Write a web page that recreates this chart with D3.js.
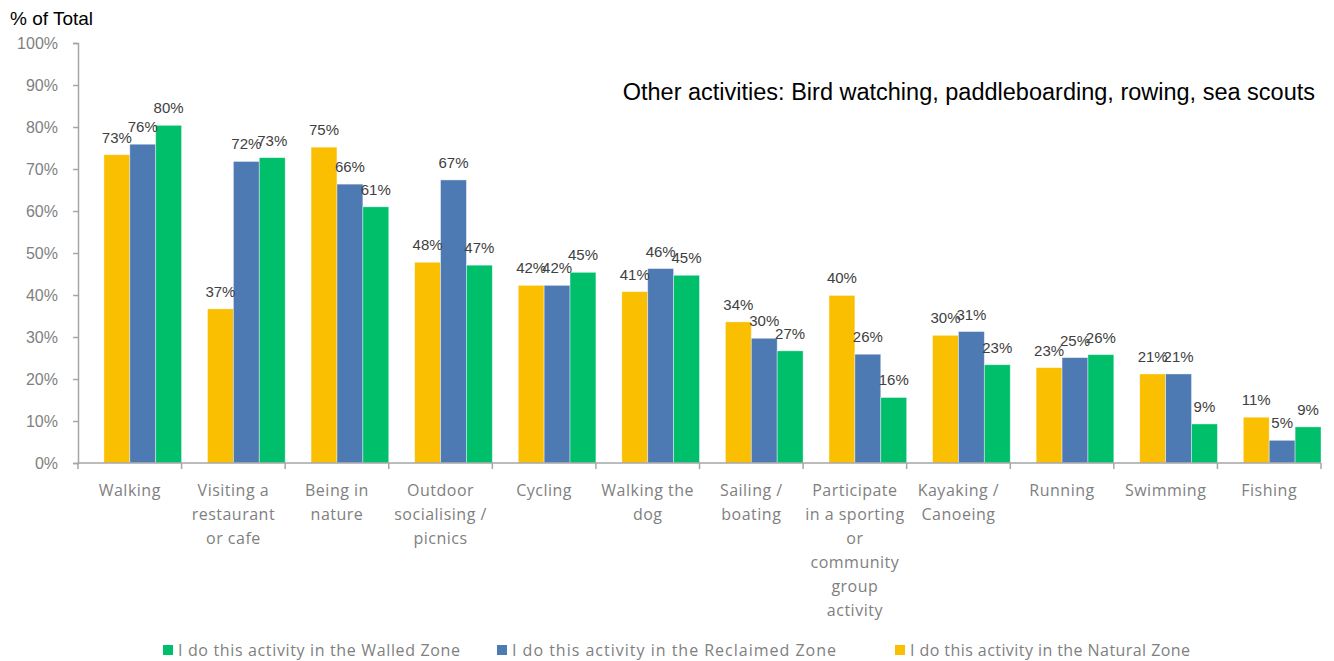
<!DOCTYPE html>
<html>
<head>
<meta charset="utf-8">
<script src="https://cdn.jsdelivr.net/npm/d3@7"></script>
<style>
  html, body { margin: 0; padding: 0; background: #fff; }
  svg { display: block; }
</style>
</head>
<body>
<svg id="chart" width="1334" height="661"></svg>
<script>
// Activity categories (line breaks follow the axis label wrapping)
const categories = [
  "Walking",
  "Visiting a\nrestaurant\nor cafe",
  "Being in\nnature",
  "Outdoor\nsocialising /\npicnics",
  "Cycling",
  "Walking the\ndog",
  "Sailing /\nboating",
  "Participate\nin a sporting\nor\ncommunity\ngroup\nactivity",
  "Kayaking /\nCanoeing",
  "Running",
  "Swimming",
  "Fishing"
];

// Share of respondents (%) per zone
const naturalZone   = [73.4, 36.7, 75.2, 47.8, 42.3, 40.8, 33.6, 39.9, 30.4, 22.7, 21.2, 10.9];
const reclaimedZone = [75.9, 71.8, 66.4, 67.4, 42.3, 46.3, 29.7, 25.9, 31.3, 25.1, 21.2, 5.4];
const walledZone    = [80.4, 72.7, 61.0, 47.1, 45.4, 44.7, 26.7, 15.6, 23.4, 25.8, 9.3, 8.6];

const yTicks = [0, 10, 20, 30, 40, 50, 60, 70, 80, 90, 100];

const seriesNames = [
  "I do this activity in the Walled Zone",
  "I do this activity in the Reclaimed Zone",
  "I do this activity in the Natural Zone"
];

const yTitle = "% of Total";
const note = "Other activities: Bird watching, paddleboarding, rowing, sea scouts";

const colors = { natural: "#FABF00", reclaimed: "#4E7AB4", walled: "#00BF6B" };

const svg = d3.select("#chart");
const plot = { left: 78, right: 1321, top: 43, bottom: 463 };

const x0 = d3.scaleBand().domain(categories).range([plot.left, plot.right]).padding(0);
const bw = x0.bandwidth();
// Bars occupy the right three quarters of each category slot
const x1 = d3.scaleBand().domain(["natural", "reclaimed", "walled"]).range([bw / 4, bw]).padding(0);
const y = d3.scaleLinear().domain([0, 100]).range([plot.bottom, plot.top]);

const rows = categories.map((c, i) => ({
  cat: c,
  values: [
    { key: "natural", v: naturalZone[i] },
    { key: "reclaimed", v: reclaimedZone[i] },
    { key: "walled", v: walledZone[i] }
  ]
}));

// Bars
const groups = svg.append("g").selectAll("g").data(rows).join("g")
  .attr("transform", d => `translate(${x0(d.cat)},0)`);

groups.selectAll("rect").data(d => d.values).join("rect")
  .attr("x", d => x1(d.key))
  .attr("y", d => y(d.v))
  .attr("width", x1.bandwidth())
  .attr("height", d => y(0) - y(d.v))
  .attr("fill", d => colors[d.key])
  .attr("stroke", "#ffffff")
  .attr("stroke-opacity", 0.5)
  .attr("stroke-width", 0.8);

// Value labels
const fmt = d3.format(".0f");
groups.selectAll("text").data(d => d.values).join("text")
  .attr("x", d => x1(d.key) + x1.bandwidth() / 2)
  .attr("y", d => y(d.v) - 12)
  .attr("text-anchor", "middle")
  .attr("font-family", "Liberation Sans, Arial, sans-serif")
  .attr("font-size", 15)
  .attr("fill", "#404040")
  .text(d => fmt(d.v) + "%");

// Y axis
const yAxis = svg.append("g")
  .attr("transform", `translate(${plot.left},0)`)
  .call(d3.axisLeft(y).tickValues(yTicks).tickSize(5).tickPadding(15).tickFormat(d => d + "%"));
yAxis.selectAll("path, line").attr("stroke", "#A6A6A6").attr("stroke-width", 1.5);
yAxis.selectAll("text")
  .attr("font-family", "Liberation Sans, Arial, sans-serif")
  .attr("font-size", 16)
  .attr("fill", "#7F7F7F");

// X axis: ticks sit on the category boundaries
const boundaries = categories.map(c => x0(c)).concat([plot.right]);
const xAxis = svg.append("g");
xAxis.append("line")
  .attr("x1", plot.left).attr("x2", plot.right)
  .attr("y1", plot.bottom).attr("y2", plot.bottom)
  .attr("stroke", "#A6A6A6").attr("stroke-width", 1.5);
xAxis.selectAll("line.tick").data(boundaries).join("line")
  .attr("class", "tick")
  .attr("x1", d => d).attr("x2", d => d)
  .attr("y1", plot.bottom).attr("y2", plot.bottom + 6)
  .attr("stroke", "#A6A6A6").attr("stroke-width", 1.5);

// Category labels
const catLabels = xAxis.selectAll("text.cat").data(categories).join("text")
  .attr("class", "cat")
  .attr("x", d => x0(d) + bw / 2)
  .attr("y", 496)
  .attr("text-anchor", "middle")
  .attr("font-family", "Open Sans, Liberation Sans, sans-serif")
  .attr("font-size", 16)
  .attr("letter-spacing", 0.5)
  .attr("fill", "#7F7F7F");
catLabels.each(function(d) {
  const t = d3.select(this);
  d.split("\n").forEach((line, i) => {
    t.append("tspan").attr("x", x0(d) + bw / 2).attr("dy", i === 0 ? 0 : 24).text(line);
  });
});

// Axis title
svg.append("text")
  .attr("x", 10).attr("y", 25)
  .attr("font-family", "Liberation Sans, Arial, sans-serif")
  .attr("font-size", 19)
  .attr("fill", "#000")
  .text(yTitle);

// Note
svg.append("text")
  .attr("x", 1315).attr("y", 100)
  .attr("text-anchor", "end")
  .attr("font-family", "Liberation Sans, Arial, sans-serif")
  .attr("font-size", 23.5)
  .attr("fill", "#000")
  .text(note);

// Legend
const legendItems = [
  { name: seriesNames[0], color: colors.walled, x: 163, w: 282 },
  { name: seriesNames[1], color: colors.reclaimed, x: 497, w: 324 },
  { name: seriesNames[2], color: colors.natural, x: 895, w: 280 }
];
const legend = svg.append("g").selectAll("g").data(legendItems).join("g")
  .attr("transform", d => `translate(${d.x},656)`);
legend.append("rect")
  .attr("x", 0).attr("y", -11).attr("width", 10).attr("height", 10)
  .attr("fill", d => d.color);
legend.append("text")
  .attr("x", 15).attr("y", 0)
  .attr("font-family", "Open Sans, Liberation Sans, sans-serif")
  .attr("font-size", 16)
  .attr("textLength", d => d.w)
  .attr("lengthAdjust", "spacing")
  .attr("fill", "#7F7F7F")
  .text(d => d.name);
</script>
</body>
</html>
